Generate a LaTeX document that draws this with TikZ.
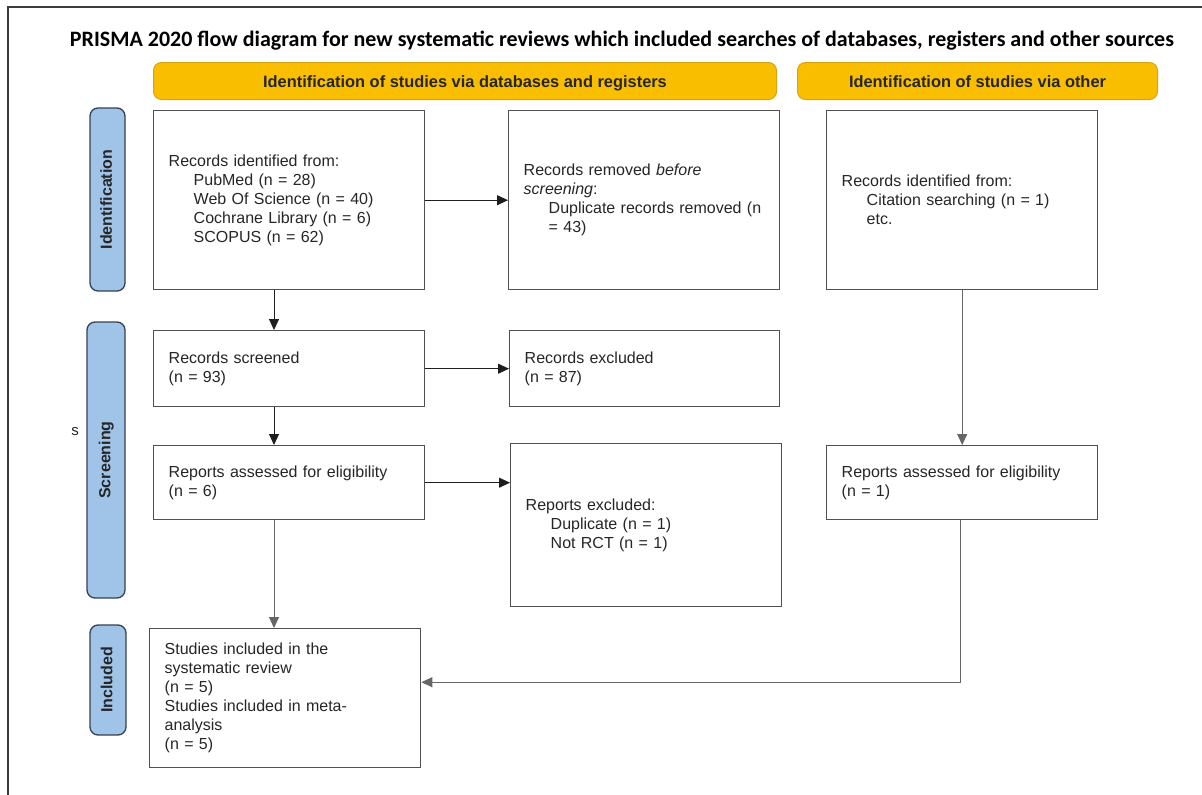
\documentclass[tikz,border=0pt]{standalone}
\usepackage{fontspec}
\setmainfont{Liberation Sans}
\newfontfamily\titlefont{Carlito}
\usetikzlibrary{arrows.meta}
\definecolor{banfill}{RGB}{250,190,0}
\definecolor{bandraw}{RGB}{215,165,20}
\definecolor{sidefill}{RGB}{159,196,232}
\definecolor{sidedraw}{RGB}{55,65,80}
\definecolor{boxdraw}{RGB}{80,80,80}
\definecolor{linecol}{RGB}{30,30,30}
\definecolor{framecol}{RGB}{60,60,60}
\tikzset{
  box/.style={draw=boxdraw, line width=1.4pt, fill=white, align=left, inner xsep=15pt, inner ysep=0pt, anchor=north west, font=\fontsize{16}{19}\selectfont, text=black!85},
  banner/.style={draw=bandraw, line width=1pt, fill=banfill, rounded corners=8pt, anchor=north west, font=\fontsize{16.4}{19}\selectfont\bfseries, text=black!85, text height=14pt, text depth=1.5pt},
  side/.style={draw=sidedraw, line width=1.3pt, fill=sidefill, rounded corners=8pt, rotate=90, font=\fontsize{16}{19}\selectfont\bfseries, text=black!85, inner sep=0pt, text height=12pt, text depth=3.5pt},
  arr/.style={draw=linecol, line width=1pt, -{Triangle[length=11pt,width=10pt]}},
}
\begin{document}
\begin{tikzpicture}[x=1pt,y=-1pt]
\useasboundingbox (0,0) rectangle (1202,795);
\fill[white] (0,0) rectangle (1202,795);
% frame
\draw[framecol, line width=1.5pt] (8,795) -- (8,7) -- (1202,7);
% title
\node[font=\titlefont\bfseries\fontsize{22}{25}\selectfont, text=black] (title) at (622,41) {PRISMA 2020 flow diagram for new systematic reviews which included searches of databases, registers and other sources};
% banners
\node[banner, minimum width=623pt, minimum height=37pt] (ban1) at (153,62) {Identification of studies via databases and registers};
\node[banner, minimum width=360pt, minimum height=37pt] (ban2) at (797,62) {Identification of studies via other};
% side labels
\node[side, minimum width=183pt, minimum height=35pt] (sid1) at (107.5,199.5) {Identification};
\node[side, minimum width=276pt, minimum height=38pt] (sid2) at (106,460) {Screening};
\node[side, minimum width=110pt, minimum height=36pt] (sid3) at (108,680) {Included};
\node[font=\fontsize{15}{18}\selectfont, text=black!85] (sletter) at (75,432) {s};
% boxes
\node[box, text width=241pt, minimum height=179pt] (b1) at (153,110) {Records identified from:\\
\hspace*{25pt}PubMed (n = 28)\\
\hspace*{25pt}Web Of Science (n = 40)\\
\hspace*{25pt}Cochrane Library (n = 6)\\
\hspace*{25pt}SCOPUS (n = 62)};
\node[box, text width=241pt, minimum height=179pt] (b2) at (508,110) {Records removed \textit{before}\\
\textit{screening}:\\
\hspace*{25pt}Duplicate records removed (n\\
\hspace*{25pt}= 43)};
\node[box, text width=241pt, minimum height=179pt] (b3) at (826,110) {Records identified from:\\
\hspace*{25pt}Citation searching (n = 1)\\
\hspace*{25pt}etc.};
\node[box, text width=241pt, minimum height=76pt] (b4) at (153,330) {Records screened\\(n = 93)};
\node[box, text width=240pt, minimum height=76pt] (b5) at (509,330) {Records excluded\\(n = 87)};
\node[box, text width=241pt, minimum height=74pt] (b6) at (153,445) {Reports assessed for eligibility\\(n = 6)};
\node[box, text width=241pt, minimum height=163pt] (b7) at (510,443) {Reports excluded:\\
\hspace*{25pt}Duplicate (n = 1)\\
\hspace*{25pt}Not RCT (n = 1)};
\node[box, text width=241pt, minimum height=74pt] (b8) at (826,445) {Reports assessed for eligibility\\(n = 1)};
\node[box, text width=241pt, minimum height=139pt] (b9) at (149,628) {Studies included in the\\
systematic review\\
(n = 5)\\
Studies included in meta-\\
analysis\\
(n = 5)};
% connectors
\draw[arr] (b1.east) -- (b2.west);
\draw[arr] (b4.east) -- (b5.west);
\draw[arr] (b6.east) -- (b6.east -| b7.west);
\draw[arr] ([xshift=121pt]b1.south west) -- ([xshift=121pt]b4.north west);
\draw[arr] ([xshift=121pt]b4.south west) -- ([xshift=121pt]b6.north west);
\draw[arr, draw=black!60] ([xshift=121pt]b6.south west) -- ([xshift=125pt]b9.north west);
\draw[arr, draw=black!60] (b3.south) -- (b8.north);
\draw[arr, draw=black!60] ([xshift=-2pt]b8.south) |- ([yshift=16pt]b9.east);
\end{tikzpicture}
\end{document}
